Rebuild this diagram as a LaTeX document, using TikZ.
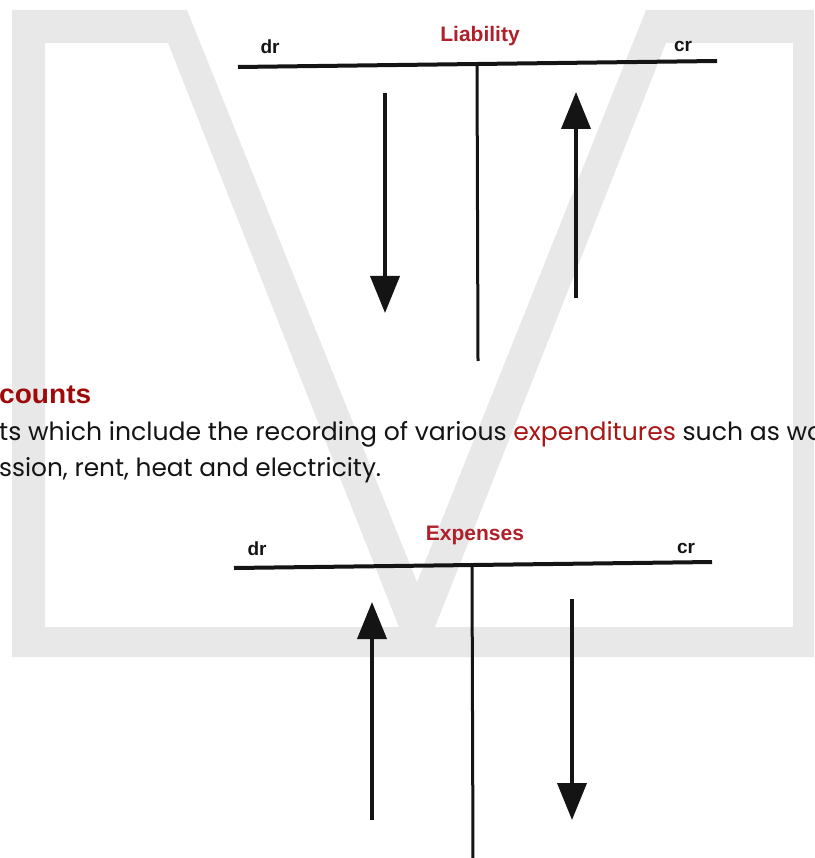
\documentclass[tikz,border=0pt]{standalone}
\usepackage{fontspec}
\usepackage{graphicx}
\usetikzlibrary{arrows.meta}
\setmainfont{Liberation Sans}
\newfontfamily\bodyfont{Poppins}
\definecolor{wmgray}{RGB}{232,232,232}
\definecolor{headred}{RGB}{158,10,10}
\definecolor{labred}{RGB}{176,32,42}
\definecolor{linkred}{RGB}{168,22,22}
\definecolor{inkblack}{RGB}{20,20,20}
\begin{document}
\begin{tikzpicture}[x=1pt,y=-1pt,
  tline/.style={line width=4pt, draw=inkblack},
  vline/.style={line width=3pt, draw=inkblack},
  arr/.style={line width=3.8pt, draw=inkblack, fill=inkblack, -{Triangle[length=37pt,width=29pt]}},
  side/.style={font=\fontsize{19}{19}\selectfont\bfseries, text=inkblack, inner sep=0pt, anchor=base},
  acctitle/.style={font=\fontsize{21}{21}\selectfont\bfseries, text=labred, inner sep=0pt, anchor=base},
  bodytext/.style={anchor=base west, inner sep=0pt, text=inkblack, font=\bodyfont\fontsize{25}{25}\selectfont}]
\useasboundingbox (0,0) rectangle (814,858);
\clip (0,0) rectangle (814,858);
% watermark
\fill[wmgray, even odd rule]
  (12,10) -- (187,10) -- (417,582) -- (646,10) -- (830,10) -- (830,657) -- (12,657) -- cycle
  (45,43) -- (168,43) -- (399,627) -- (45,627) -- cycle
  (666,43) -- (793,43) -- (793,627) -- (435,627) -- cycle;
% text
\node[anchor=base west, inner sep=0pt, text=headred, font=\fontsize{27}{27}\selectfont\bfseries] (head) at (-1,403) {\resizebox{92pt}{\height}{counts}};
\node[bodytext] (line1) at (-1,440) {\resizebox{824pt}{\height}{ts which include the recording of various \textcolor{linkred}{expenditures} such as wo}};
\node[bodytext] (line2) at (-1,476) {\resizebox{382pt}{\height}{ssion, rent, heat and electricity.}};
% T account 1
\coordinate (L1a) at (238,67);
\coordinate (L1b) at (717,61);
\coordinate (L1t) at (477,64);
\coordinate (L1u) at (478,361);
\draw[tline] (L1a) -- (L1b);
\draw[vline] (L1t) -- (L1u);
\coordinate (A1s) at (385,93);
\coordinate (A1e) at (385,313);
\draw[arr] (A1s) -- (A1e);
\coordinate (B1s) at (576,298);
\coordinate (B1e) at (576,92);
\draw[arr] (B1s) -- (B1e);
\node[acctitle] (liab) at (480,42) {Liability};
\node[side] (dr1) at (270,54) {dr};
\node[side] (cr1) at (683,52) {cr};
% T account 2
\coordinate (L2a) at (234,568);
\coordinate (L2b) at (712,562);
\coordinate (L2t) at (472,565);
\coordinate (L2u) at (473,862);
\draw[tline] (L2a) -- (L2b);
\draw[vline] (L2t) -- (L2u);
\coordinate (A2s) at (372,820);
\coordinate (A2e) at (372,602);
\draw[arr] (A2s) -- (A2e);
\coordinate (B2s) at (572,599);
\coordinate (B2e) at (572,820);
\draw[arr] (B2s) -- (B2e);
\node[acctitle] (expn) at (475,540) {Expenses};
\node[side] (dr2) at (257,555) {dr};
\node[side] (cr2) at (686,553) {cr};
\end{tikzpicture}
\end{document}
